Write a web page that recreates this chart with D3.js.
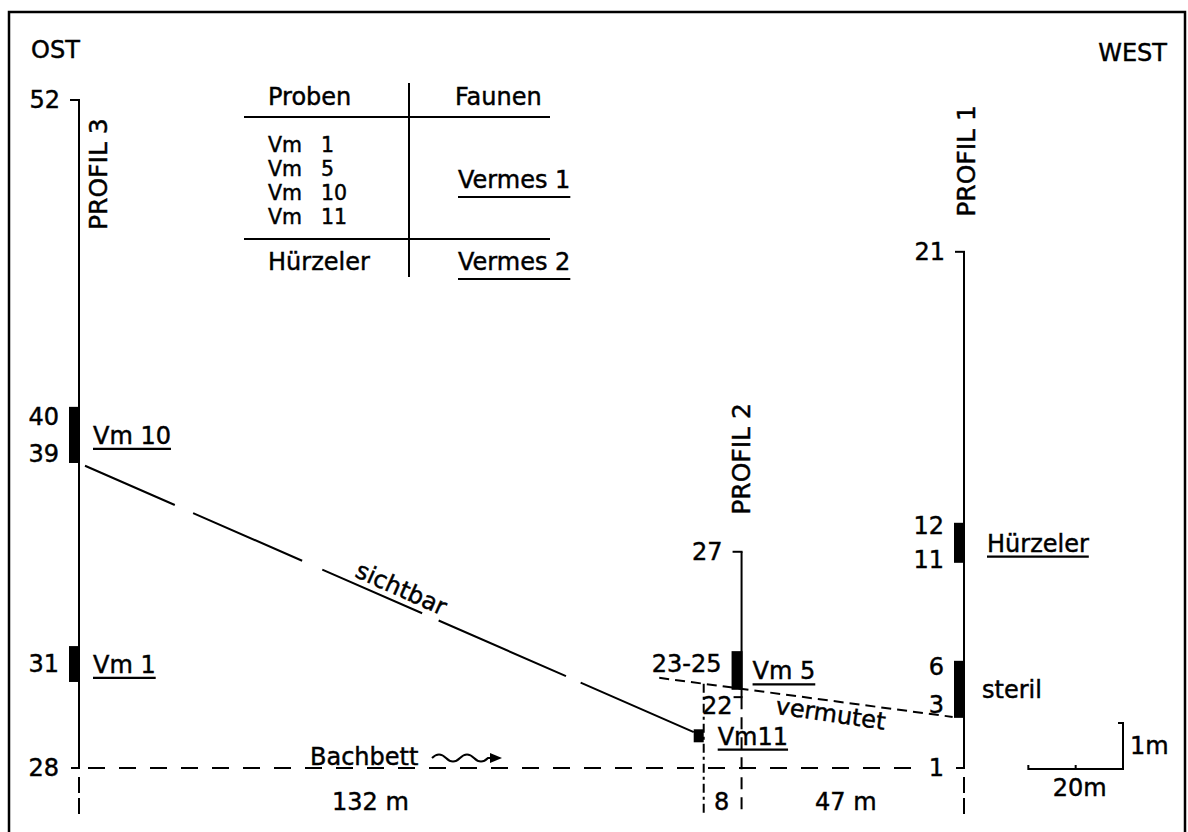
<!DOCTYPE html>
<html><head><meta charset="utf-8">
<script src="https://cdn.jsdelivr.net/npm/d3@7"></script>
<style>
html,body{margin:0;padding:0;background:#fff;}
svg text{font-family:"DejaVu Sans",sans-serif;font-size:24px;fill:#000;stroke:#000;stroke-width:0.45px;}
</style></head><body>
<svg id="chart" width="1188" height="832"></svg>
<script>
// ---------------- DATA ----------------
const directions = ["OST", "WEST"];
const profileNames = ["PROFIL 3", "PROFIL 2", "PROFIL 1"];
const profileDist = [0, 140, 187];          // m, measured from Profil 3 towards west
const profileTop = [14.52, 4.70, 11.22];    // m above Bachbett
const profileBottom = [0, 1.54, 0];         // m above Bachbett
const profileTopLayer = ["52", "27", "21"];
const profileBottomLayer = ["28", "22", "1"];

const sampleNames = ["Vm 10", "Vm 1", "Vm 5", "Hürzeler", "steril"];
const sampleProfile = [0, 0, 1, 2, 2];
const sampleFrom = [6.63, 1.87, 1.70, 4.46, 1.09];
const sampleTo = [7.85, 2.65, 2.54, 5.33, 2.33];
const sampleUnderlined = [true, true, true, true, false];

const layerText = ["40", "39", "31", "23-25", "12", "11", "6", "3"];
const layerProfile = [0, 0, 0, 1, 2, 2, 2, 2];
const layerHeight = [7.63, 6.83, 2.26, 2.28, 5.26, 4.54, 2.20, 1.37];

const vm11Name = "Vm11";
const vm11Dist = 132;
const vm11Height = 0.70;

const sichtbarLine = [[1.27, 6.57], [129.9, 0.78]];
const vermutetLine = [[122.6, 1.96], [184.6, 1.11]];
const lineNames = ["sichtbar", "vermutet", "Bachbett"];

const distanceMarks = [0, 132, 140, 187];
const distanceLabels = ["132 m", "8", "47 m"];

const tableHeader = ["Proben", "Faunen"];
const probenPrefix = "Vm";
const probenNumbers = ["1", "5", "10", "11"];
const faunenNames = ["Vermes 1", "Vermes 2"];
const secondProbe = "Hürzeler";

const scaleBarValues = [20, 1];       // m horizontal, m vertical
const scaleBarLabels = ["20m", "1m"];

// ---------------- SCALES ----------------
const svg = d3.select("#chart");
const x = d3.scaleLinear().domain([0, 187]).range([79, 964]);
const y = d3.scaleLinear().domain([0, 14.52]).range([768, 100]);
const belowLevel = -1.02;

const g = svg.append("g");

// frame
g.append("rect").attr("x", 9).attr("y", 12).attr("width", 1176).attr("height", 900)
  .attr("fill", "none").attr("stroke", "#000").attr("stroke-width", 2.5);

// directions
g.append("text").attr("x", 31).attr("y", 58).text(directions[0]);
g.append("text").attr("x", 1167).attr("y", 61).attr("text-anchor", "end").text(directions[1]);

// ---------------- BACHBETT LINE ----------------
g.append("line").attr("x1", x(0) + 9).attr("x2", x(187) - 40)
  .attr("y1", y(0)).attr("y2", y(0))
  .attr("stroke", "#000").attr("stroke-width", 2.2).attr("stroke-dasharray", "17 14");

// ---------------- PROFILES ----------------
profileNames.forEach((name, i) => {
  const px = x(profileDist[i]);
  const yt = y(profileTop[i]), yb = y(profileBottom[i]);
  g.append("line").attr("x1", px).attr("x2", px).attr("y1", yt).attr("y2", yb)
    .attr("stroke", "#000").attr("stroke-width", 2);
  g.append("line").attr("x1", px - 9).attr("x2", px + 1).attr("y1", yt).attr("y2", yt)
    .attr("stroke", "#000").attr("stroke-width", 2);
  g.append("line").attr("x1", px - 8).attr("x2", px + 1).attr("y1", yb).attr("y2", yb)
    .attr("stroke", "#000").attr("stroke-width", 2);
  // top label
  g.append("text").attr("x", px - 19).attr("y", yt).attr("dy", "0.35em")
    .attr("text-anchor", "end").text(profileTopLayer[i]);
  // bottom label
  if (i === 1) {
    g.append("text").attr("x", px - 9).attr("y", yb + 8).attr("dy", "0.35em")
      .attr("text-anchor", "end").text(profileBottomLayer[i]);
  } else {
    g.append("text").attr("x", px - 20).attr("y", yb).attr("dy", "0.35em")
      .attr("text-anchor", "end").text(profileBottomLayer[i]);
  }
  // dashed extension below
  g.append("line").attr("x1", px).attr("x2", px)
    .attr("y1", yb + (i === 1 ? 0 : 9)).attr("y2", y(belowLevel))
    .attr("stroke", "#000").attr("stroke-width", 2)
    .attr("stroke-dasharray", i === 1 ? "12 8" : "16 5");
  // rotated profile name
  const lp = [[px + 28, yt + 130], [px + 8, yt - 37], [px + 11, yt - 35]][i];
  g.append("text").attr("transform", `translate(${lp[0]},${lp[1]}) rotate(-90)`)
    .style("font-size", "25px").text(name);
});

// ---------------- SAMPLE BARS ----------------
const sampleDx = [14, 14, 11, 23, 18];
sampleNames.forEach((name, i) => {
  const px = x(profileDist[sampleProfile[i]]);
  const y1 = y(sampleTo[i]), y2 = y(sampleFrom[i]);
  g.append("rect").attr("x", px - 10).attr("y", y1).attr("width", 11).attr("height", y2 - y1)
    .attr("fill", "#000");
  const cy = (y1 + y2) / 2;
  const t = g.append("text").attr("x", px + sampleDx[i]).attr("y", cy).attr("dy", "0.37em").text(name);
  if (sampleUnderlined[i]) {
    const len = t.node().getComputedTextLength();
    const base = cy + 24 * 0.37;
    g.append("line").attr("x1", px + sampleDx[i]).attr("x2", px + sampleDx[i] + len)
      .attr("y1", base + 5).attr("y2", base + 5).attr("stroke", "#000").attr("stroke-width", 2.2);
  }
});

// layer numbers
layerText.forEach((txt, i) => {
  const px = x(profileDist[layerProfile[i]]);
  g.append("text").attr("x", px - 20).attr("y", y(layerHeight[i])).attr("dy", "0.35em")
    .attr("text-anchor", "end").text(txt);
});

// ---------------- CORRELATION LINES ----------------
const lineGen = d3.line().x(d => x(d[0])).y(d => y(d[1]));
g.append("path").attr("d", lineGen(sichtbarLine)).attr("fill", "none")
  .attr("stroke", "#000").attr("stroke-width", 2)
  .attr("stroke-dasharray", "98 20 119 22 109 18 139 16 400");
g.append("path").attr("d", lineGen(vermutetLine)).attr("fill", "none")
  .attr("stroke", "#000").attr("stroke-width", 2).attr("stroke-dasharray", "10 6");

function labelOnLine(pts, t, off, txt, extraAngle) {
  const x1 = x(pts[0][0]), y1 = y(pts[0][1]), x2 = x(pts[1][0]), y2 = y(pts[1][1]);
  const ang = Math.atan2(y2 - y1, x2 - x1);
  const mx = x1 + (x2 - x1) * t, my = y1 + (y2 - y1) * t;
  const nx = -Math.sin(ang) * off, ny = Math.cos(ang) * off;
  g.append("text").attr("text-anchor", "middle")
    .attr("transform", `translate(${mx + nx},${my + ny}) rotate(${ang * 180 / Math.PI + extraAngle})`)
    .text(txt);
}
labelOnLine(sichtbarLine, 0.51, -6, lineNames[0], 0.5);
labelOnLine(vermutetLine, 0.59, 21, lineNames[1], 0.8);

// ---------------- Vm11 ----------------
const vx = x(vm11Dist), vy = y(vm11Height);
g.append("rect").attr("x", vx - 10).attr("y", vy - 6.5).attr("width", 10).attr("height", 13).attr("fill", "#000");
const vText = g.append("text").attr("x", vx + 14).attr("y", vy).attr("dy", "0.37em").text(vm11Name);
{
  const len = vText.node().getComputedTextLength();
  const base = vy + 24 * 0.37;
  g.append("line").attr("x1", vx + 14).attr("x2", vx + 14 + len)
    .attr("y1", base + 5).attr("y2", base + 5).attr("stroke", "#000").attr("stroke-width", 2.2);
}
// vertical dash-dot at Vm11 position, starting at the vermutet line
const vtTop = vermutetLine[0][1] + (vm11Dist - vermutetLine[0][0]) /
  (vermutetLine[1][0] - vermutetLine[0][0]) * (vermutetLine[1][1] - vermutetLine[0][1]);
g.append("line").attr("x1", vx).attr("x2", vx).attr("y1", y(vtTop)).attr("y2", y(belowLevel))
  .attr("stroke", "#000").attr("stroke-width", 2).attr("stroke-dasharray", "9 4 3 4");

// ---------------- BACHBETT LABEL + ARROW ----------------
const bbx = x(0) + 231, bby = y(0) - 3;
g.append("text").attr("x", bbx).attr("y", bby).text(lineNames[2]);
const ax = bbx + 122, ay = y(0) - 10;
g.append("path")
  .attr("d", `M${ax},${ay} q7,-7 14,0 t14,0 t14,0 t14,0 l6,0`)
  .attr("fill", "none").attr("stroke", "#000").attr("stroke-width", 2);
g.append("path")
  .attr("d", `M${ax + 70},${ay} l-12,-5 l0,10 z`).attr("fill", "#000");

// ---------------- DISTANCE LABELS ----------------
const distDx = [-21, -1, -7];
distanceLabels.forEach((lab, i) => {
  const mid = (x(distanceMarks[i]) + x(distanceMarks[i + 1])) / 2;
  g.append("text").attr("x", mid + distDx[i]).attr("y", 810).attr("text-anchor", "middle").text(lab);
});

// ---------------- TABLE ----------------
const tb = g.append("g");
tb.append("line").attr("x1", 244).attr("x2", 550).attr("y1", 117).attr("y2", 117).attr("stroke", "#000").attr("stroke-width", 2);
tb.append("line").attr("x1", 244).attr("x2", 550).attr("y1", 239).attr("y2", 239).attr("stroke", "#000").attr("stroke-width", 2);
tb.append("line").attr("x1", 409).attr("x2", 409).attr("y1", 83).attr("y2", 277).attr("stroke", "#000").attr("stroke-width", 2);
tb.append("text").attr("x", 268).attr("y", 105).text(tableHeader[0]);
tb.append("text").attr("x", 455).attr("y", 105).text(tableHeader[1]);
const probeBase = [152, 176, 200, 224];
probenNumbers.forEach((n, i) => {
  tb.append("text").attr("x", 268).attr("y", probeBase[i]).style("font-size", "20.5px").text(probenPrefix);
  tb.append("text").attr("x", 321).attr("y", probeBase[i]).style("font-size", "20.5px").text(n);
});
tb.append("text").attr("x", 268).attr("y", 270).text(secondProbe);
const faunBase = [188, 270];
faunenNames.forEach((f, i) => {
  const t = tb.append("text").attr("x", 458).attr("y", faunBase[i]).text(f);
  const len = t.node().getComputedTextLength();
  tb.append("line").attr("x1", 458).attr("x2", 458 + len)
    .attr("y1", faunBase[i] + 9).attr("y2", faunBase[i] + 9).attr("stroke", "#000").attr("stroke-width", 2.2);
});

// ---------------- SCALE BAR ----------------
const sbx = 1123, sby = 769;
const hLen = x(scaleBarValues[0]) - x(0);
const vLen = y(0) - y(scaleBarValues[1]);
g.append("path")
  .attr("d", `M${sbx - hLen},${sby - 4} L${sbx - hLen},${sby} L${sbx},${sby} L${sbx},${sby - vLen} L${sbx - 5},${sby - vLen}`)
  .attr("fill", "none").attr("stroke", "#000").attr("stroke-width", 2);
g.append("line").attr("x1", sbx - hLen / 2).attr("x2", sbx - hLen / 2).attr("y1", sby - 4).attr("y2", sby)
  .attr("stroke", "#000").attr("stroke-width", 2);
g.append("text").attr("x", sbx - hLen / 2 + 4).attr("y", 796).attr("text-anchor", "middle").text(scaleBarLabels[0]);
g.append("text").attr("x", sbx + 7).attr("y", sby - vLen / 2).attr("dy", "0.35em").text(scaleBarLabels[1]);
</script>
</body></html>
